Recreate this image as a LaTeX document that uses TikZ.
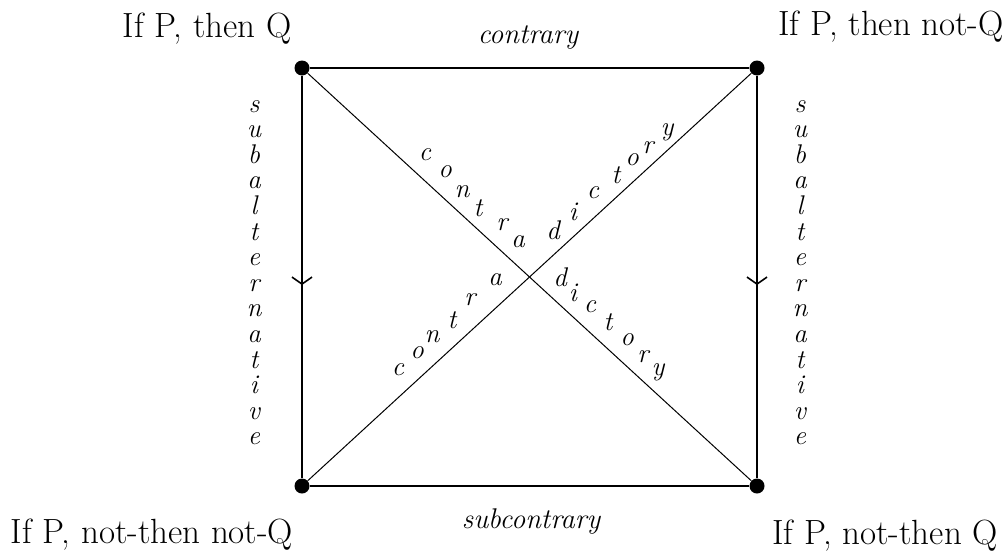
\documentclass[tikz,border=0pt]{standalone}
\usepackage{fontspec}
\usetikzlibrary{arrows.meta,decorations.markings}
\begin{document}
\begin{tikzpicture}[x=1pt,y=-1pt,
  edge/.style={line width=1.8pt},
  diag/.style={line width=1pt},
  dot/.style={circle,fill=black,inner sep=0pt,minimum size=15pt},
  corner/.style={font=\fontsize{35}{40}\selectfont,anchor=base,inner sep=0pt},
  lab/.style={font=\itshape\fontsize{28.5}{33}\selectfont,inner sep=0pt},
  letter/.style={font=\itshape\fontsize{27}{31}\selectfont,inner sep=0pt},
  midarrow/.style={postaction={decorate},decoration={markings,
    mark=at position 0.52 with {\arrow{Straight Barb[length=7pt,width=20pt,line width=1.6pt]}}}}
]
\useasboundingbox (0,0) rectangle (1004,552);
% corners
\node[dot] (tl) at (302,68) {};
\node[dot] (tr) at (757,68) {};
\node[dot] (bl) at (302,486) {};
\node[dot] (br) at (757,486) {};
% square
\draw[edge] (tl) -- (tr);
\draw[edge] (bl) -- (br);
\draw[edge,midarrow] (tl) -- (bl);
\draw[edge,midarrow] (tr) -- (br);
% diagonals
\draw[diag] (tl) -- (br);
\draw[diag] (bl) -- (tr);
% corner labels
\node[corner] (ltl) at (207,37) {If P, then Q};
\node[corner] (ltr) at (891,35) {If P, then not-Q};
\node[corner] (lbl) at (152,543) {If P, not-then not-Q};
\node[corner] (lbr) at (885,544) {If P, not-then Q};
% edge labels
\node[lab,anchor=base] (contrary) at (528,43) {contrary};
\node[lab,anchor=base] (subcontrary) at (531,528) {subcontrary};
% subalternative, left and right
\foreach \ch [count=\i from 0] in {s,u,b,a,l,t,e,r,n,a,t,i,v,e} {
  \node[letter,anchor=base] (sl\i) at (254,{112+\i*25.6}) {\ch};
  \node[letter,anchor=base] (sr\i) at (800,{112+\i*25.6}) {\ch};
}
% upper contradictory (V shape)
\foreach \ch/\x/\y [count=\i] in {c/425/155,o/445/172,n/462/192,t/478/208,r/502/225,a/518/242,
  d/553/230,i/573/212,c/593/193,t/616/175,o/632/160,r/648/148,y/667/132} {
  \node[letter] (cu\i) at (\x,\y) {\ch};
}
% lower contradictory (inverted V shape)
\foreach \ch/\x/\y [count=\i] in {c/398/370,o/417/353,n/432/337,t/452/320,r/470/300,a/495/280,
  d/560/277,i/573/293,c/590/307,t/608/322,o/627/340,r/643/357,y/658/372} {
  \node[letter] (cl\i) at (\x,\y) {\ch};
}
\end{tikzpicture}
\end{document}
